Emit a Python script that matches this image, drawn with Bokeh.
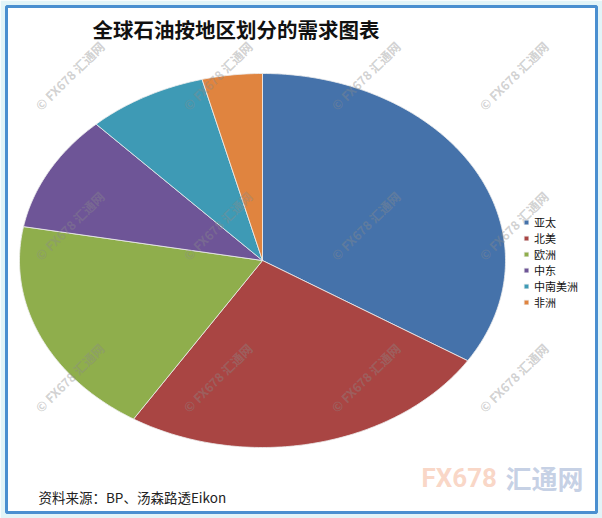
import numpy as np
from bokeh.plotting import figure
from bokeh.models import ColumnDataSource, Range1d, Label, Legend, LegendItem
from bokeh.embed import file_html
from bokeh.resources import INLINE

# ---- data (% share) ----
regions = ["亚太", "北美", "欧洲", "中东", "中南美洲", "非洲"]
shares = [34.0, 24.9, 19.0, 10.1, 8.0, 4.0]
colors = ["#4572aa", "#a94543", "#8fae4c", "#6e5597", "#3e9ab5", "#e0843f"]
title_text = "全球石油按地区划分的需求图表"
source_text = "资料来源：BP、汤森路透Eikon"
watermark_text = "© FX678 汇通网"

W, H = 602, 518
B = 6                       # border around the framed panel
FX0, FX1 = B, W - B         # frame in page px
FY0, FY1 = B, H - B
cx, cy = 262, 260           # pie centre (page px)
rx, ry = 243, 187           # pie radii (px)

p = figure(width=W, height=H, output_backend="svg", toolbar_location=None,
           x_range=Range1d((FX0 - cx) / rx, (FX1 - cx) / rx),
           y_range=Range1d((cy - FY1) / ry, (cy - FY0) / ry),
           min_border_left=B, min_border_right=B, min_border_top=B, min_border_bottom=B)
p.axis.visible = False
p.grid.visible = False
p.outline_line_color = "#4a8fd0"
p.outline_line_width = 3
p.background_fill_color = "white"
p.border_fill_color = "#e2f4f8"


def sx(px):
    return px - FX0


def sy(py):
    return FY1 - py


# wedges as polygons on the unit circle; the ranges make it an ellipse
frac = np.array(shares) / np.sum(shares)
cum = np.concatenate([[0], np.cumsum(frac)])
xs, ys = [], []
for i in range(len(shares)):
    t = np.linspace(cum[i], cum[i + 1], max(8, int(frac[i] * 400)))
    ang = np.pi / 2 - 2 * np.pi * t
    xs.append([0.0] + list(np.cos(ang)) + [0.0])
    ys.append([0.0] + list(np.sin(ang)) + [0.0])

src = ColumnDataSource(dict(xs=xs, ys=ys, color=colors, region=regions))
r = p.patches("xs", "ys", source=src, fill_color="color", line_color="#eeeeee",
              line_width=1, line_alpha=0.8)

items = [LegendItem(label=regions[i], renderers=[r], index=i) for i in range(len(regions))]
legend = Legend(items=items, location=(sx(523), sy(310)), glyph_width=6, glyph_height=6,
                label_height=16, spacing=0, padding=0, margin=0,
                label_standoff=5, border_line_color=None, background_fill_alpha=0,
                label_text_font="Noto Sans CJK SC", label_text_font_size="11px",
                label_text_color="#111111")
p.add_layout(legend, "center")

# faint diagonal watermarks
for wy in [103, 253, 405]:
    for wx in [43, 191, 339, 487]:
        p.add_layout(Label(x=sx(wx - 6), y=sy(wy + 4), x_units="screen", y_units="screen",
                           text=watermark_text, angle=0.78,
                           text_font="Noto Sans CJK SC", text_font_style="bold",
                           text_font_size="12.5px", text_baseline="middle",
                           text_color="#8a8a8a", text_alpha=0.4))

p.add_layout(Label(x=sx(92), y=sy(28), x_units="screen", y_units="screen", text=title_text,
                   text_font="Noto Sans CJK SC", text_font_style="bold",
                   text_font_size="20.5px", text_baseline="middle", text_color="#111111"))
p.add_layout(Label(x=sx(38), y=sy(496), x_units="screen", y_units="screen", text=source_text,
                   text_font="Noto Sans CJK SC", text_font_size="13.5px",
                   text_baseline="middle", text_color="#222222"))
# faint brand logo, bottom right
p.add_layout(Label(x=sx(421), y=sy(477), x_units="screen", y_units="screen", text="FX678",
                   text_font="Roboto", text_font_size="26px", text_font_style="bold",
                   text_baseline="middle", text_color="#f4b497", text_alpha=0.55))
p.add_layout(Label(x=sx(505), y=sy(477), x_units="screen", y_units="screen", text="汇通网",
                   text_font="Noto Sans CJK SC", text_font_size="26px", text_font_style="bold",
                   text_baseline="middle", text_color="#9fb2d4", text_alpha=0.6))

open("out.html", "w").write(file_html(p, INLINE))
